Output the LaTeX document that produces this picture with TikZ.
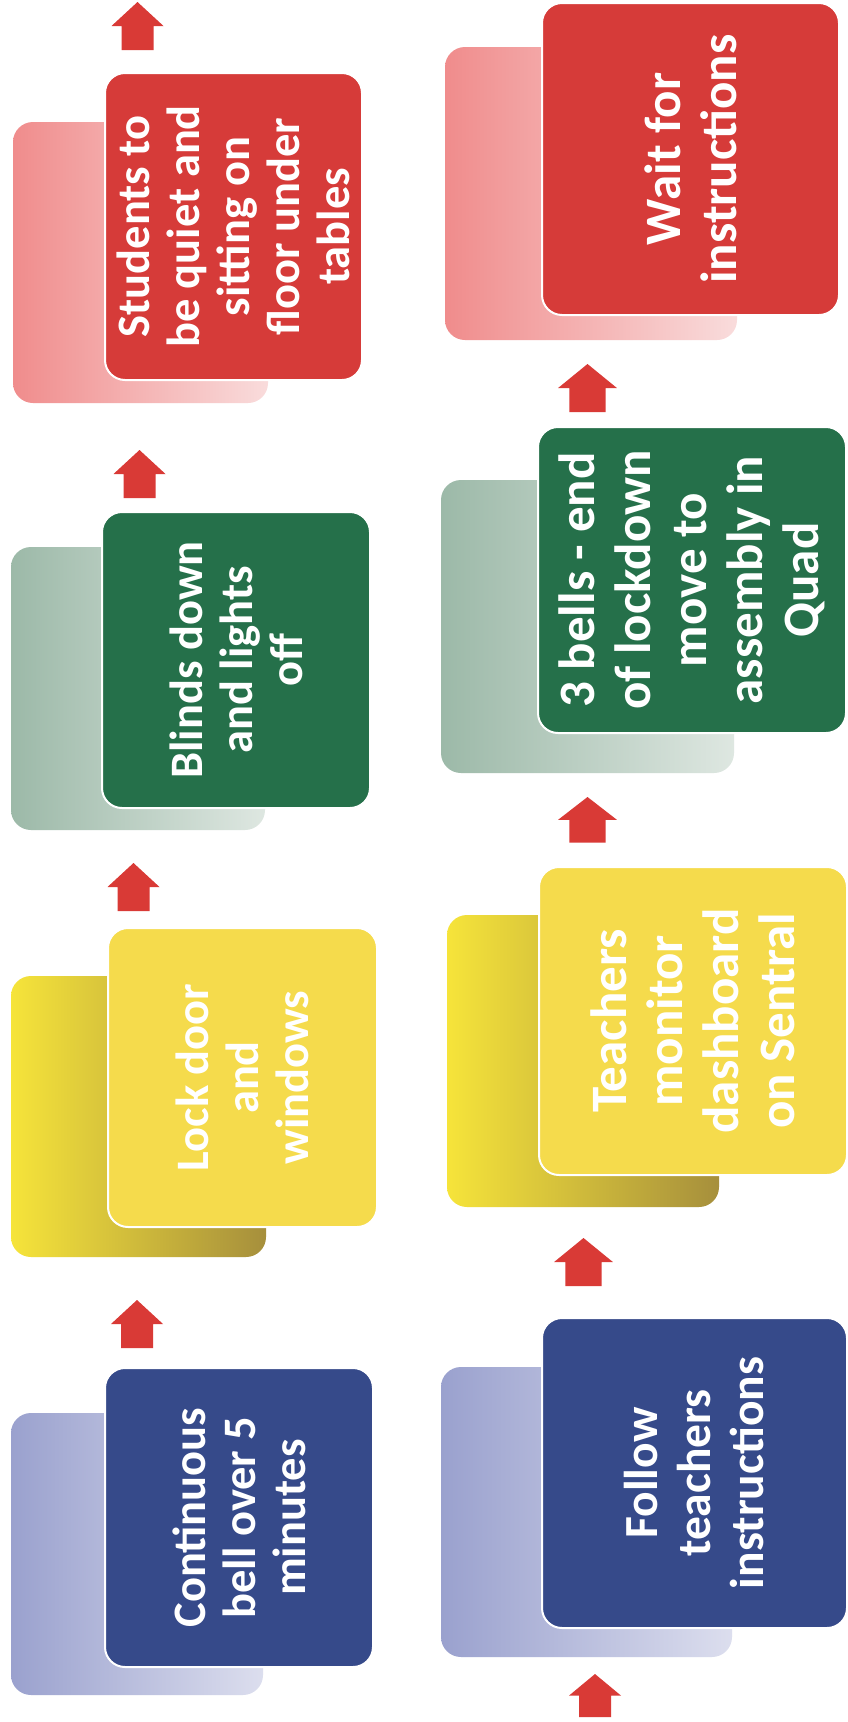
\documentclass[tikz,border=0pt]{standalone}
\usepackage{fontspec}
\setmainfont{Carlito}
\usetikzlibrary{positioning}

\definecolor{blueF}{RGB}{54,74,138}
\definecolor{blueA}{RGB}{154,161,206}
\definecolor{blueB}{RGB}{220,222,238}
\definecolor{yellowF}{RGB}{245,219,76}
\definecolor{yellowA}{RGB}{246,228,58}
\definecolor{yellowB}{RGB}{166,143,60}
\definecolor{greenF}{RGB}{37,112,74}
\definecolor{greenA}{RGB}{156,185,168}
\definecolor{greenB}{RGB}{222,231,225}
\definecolor{redF}{RGB}{214,59,57}
\definecolor{redA}{RGB}{240,140,140}
\definecolor{redB}{RGB}{249,220,220}
\definecolor{arrowred}{RGB}{217,58,54}

\tikzset{
  frontbox/.style={rectangle, rounded corners=20pt, draw=white, line width=2pt,
    text=white, align=center, rotate=90, inner sep=0pt},
  backbox/.style={rectangle, rounded corners=20pt, inner sep=0pt},
  lefttxt/.style={font=\fontsize{46.5}{50}\selectfont\bfseries},
  righttxt/.style={font=\fontsize{51}{56}\selectfont\bfseries},
  uparr/.pic={\fill[arrowred] (-16,48) -- (-16,24) -- (-26,24) -- (0,0) -- (26,24) -- (16,24) -- (16,48) -- cycle;}
}

\begin{document}
\begin{tikzpicture}[x=1pt, y=-1pt]
    \fill[white] (0,0) rectangle (848,1722);
    \useasboundingbox (0,0) rectangle (848,1722);

    % Back cards, left column
    \node (bellbk) [backbox, left color=blueA, right color=blueB, minimum width=252pt, minimum height=282pt] at (137,1554) {};
    \node (lockbk) [backbox, left color=yellowA, right color=yellowB, minimum width=255pt, minimum height=281pt] at (138.5,1116.5) {};
    \node (blindsbk) [backbox, left color=greenA, right color=greenB, minimum width=254pt, minimum height=283pt] at (138,688.5) {};
    \node (studentsbk) [backbox, left color=redA, right color=redB, minimum width=255pt, minimum height=281pt] at (140.5,262.5) {};

    % Back cards, right column
    \node (followbk) [backbox, left color=blueA, right color=blueB, minimum width=291pt, minimum height=290pt] at (586.5,1512) {};
    \node (monitorbk) [backbox, left color=yellowA, right color=yellowB, minimum width=272pt, minimum height=292pt] at (583,1061) {};
    \node (quadbk) [backbox, left color=greenA, right color=greenB, minimum width=293pt, minimum height=293pt] at (587.5,626.5) {};
    \node (waitbk) [backbox, left color=redA, right color=redB, minimum width=292pt, minimum height=293pt] at (591,193.5) {};

    % Front cards, left column
    \node (bell) [frontbox, lefttxt, fill=blueF, minimum width=299pt, minimum height=268pt] at (239,1517.5) {Continuous\\bell over 5\\minutes};
    \node (lock) [frontbox, lefttxt, fill=yellowF, minimum width=299pt, minimum height=269pt] at (242.5,1077.5) {Lock door\\and\\windows};
    \node (blinds) [frontbox, lefttxt, fill=greenF, minimum width=296pt, minimum height=268pt] at (236,660) {Blinds down\\and lights\\off};
    \node (students) [frontbox, lefttxt, fill=redF, minimum width=307pt, minimum height=257pt] at (233.5,226.5) {Students to\\be quiet and\\sitting on\\floor under\\tables};

    % Front cards, right column
    \node (follow) [frontbox, font=\fontsize{47.5}{53}\selectfont\bfseries, fill=blueF, minimum width=310pt, minimum height=305pt] at (694.5,1473) {Follow\\teachers\\instructions};
    \node (monitor) [frontbox, righttxt, fill=yellowF, minimum width=308pt, minimum height=308pt] at (693,1021) {Teachers\\monitor\\dashboard\\on Sentral};
    \node (quad) [frontbox, righttxt, fill=greenF, minimum width=306pt, minimum height=308pt] at (692,580) {3 bells - end\\of lockdown\\move to\\assembly in\\Quad};
    \node (wait) [frontbox, righttxt, fill=redF, minimum width=312pt, minimum height=297pt] at (690.5,159) {Wait for\\instructions};

    % Arrows
    \pic at (137,1300) {uparr};
    \pic at (133.5,863) {uparr};
    \pic at (139.5,450) {uparr};
    \pic at (137.5,2) {uparr};
    \pic[yscale=0.9] at (595,1674) {uparr};
    \pic[xscale=1.13] at (583.5,1238) {uparr};
    \pic[xscale=1.13, yscale=0.95] at (587.5,797) {uparr};
    \pic[xscale=1.13] at (587.5,364) {uparr};
\end{tikzpicture}
\end{document}
